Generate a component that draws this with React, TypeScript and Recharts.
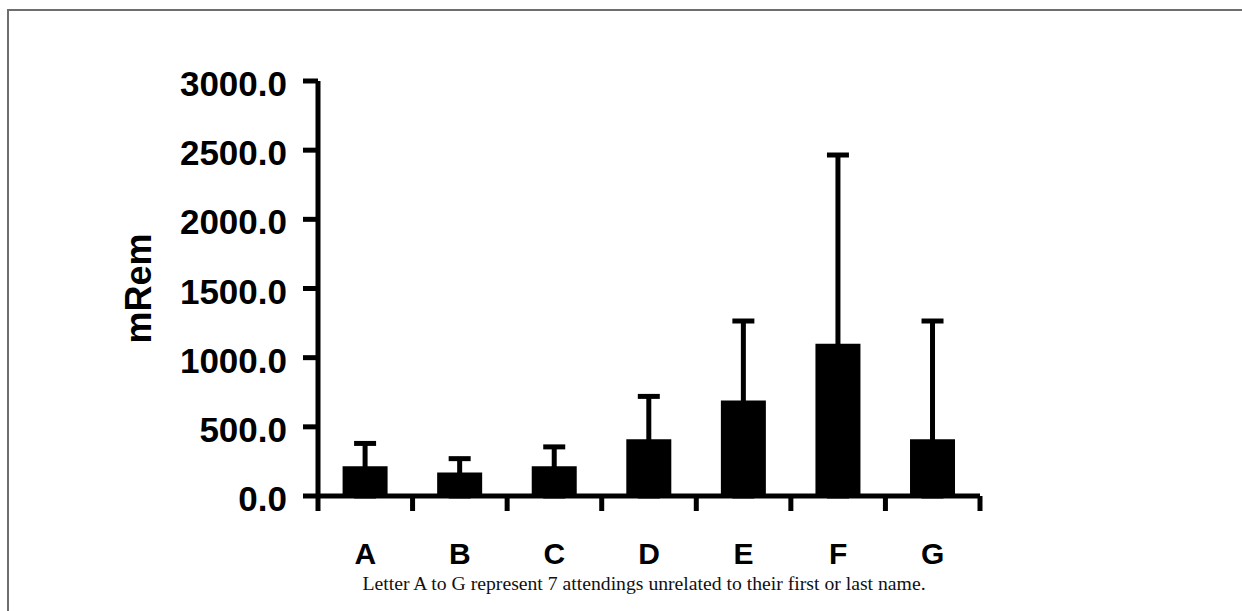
import { BarChart, Bar, XAxis, YAxis, ErrorBar } from "recharts";

// mean dose per attending, with the upper SD drawn as error bar
const attendings = ["A", "B", "C", "D", "E", "F", "G"];
const meanDose = [215, 170, 215, 410, 690, 1100, 410];
const sdDose = [165, 100, 140, 310, 575, 1365, 855];
const yTicks = [0, 500, 1000, 1500, 2000, 2500, 3000];

// lower arm runs down inside the bar to 0 so only the upper half shows
const chartData = attendings.map((name, i) => ({
  name,
  mean: meanDose[i],
  err: [meanDose[i], sdDose[i]],
}));

const FONT = "'Liberation Sans', Arial, Helvetica, sans-serif";
const TICK = 15;

function YTick({ x, y, payload }: any) {
  return (
    <text x={x} y={y} dy={15} textAnchor="end" fontFamily={FONT} fontWeight="bold" fontSize={35} fill="#000">
      {Number(payload.value).toFixed(1)}
    </text>
  );
}

function XTick({ x, y, payload, index }: any) {
  const half = payload.offset || 662 / attendings.length / 2;
  const axisY = y - TICK;
  const last = index === attendings.length - 1;
  return (
    <g>
      <line x1={x - half} x2={x - half} y1={axisY} y2={axisY + TICK} stroke="#000" strokeWidth={5} />
      {last && <line x1={x + half} x2={x + half} y1={axisY} y2={axisY + TICK} stroke="#000" strokeWidth={5} />}
      <text x={x} y={axisY + 68} textAnchor="middle" fontFamily={FONT} fontWeight="bold" fontSize={30} fill="#000">
        {payload.value}
      </text>
    </g>
  );
}

function YLabel({ viewBox }: any) {
  const cy = viewBox.y + viewBox.height / 2;
  return (
    <text x={151} y={cy} transform={`rotate(-90 151 ${cy})`} textAnchor="middle" fontFamily={FONT} fontWeight="bold" fontSize={36} fill="#000">
      mRem
    </text>
  );
}

export default function App() {
  return (
    <div style={{ position: "fixed", left: 0, top: 0, width: 1242, height: 611, background: "#fff", overflow: "hidden" }}>
      <div style={{ position: "absolute", left: 7, top: 9, width: 1235, height: 2, background: "#6e6e6e" }} />
      <div style={{ position: "absolute", left: 7, top: 9, width: 2, height: 602, background: "#6e6e6e" }} />
      <div style={{ position: "absolute", left: 0, top: 0 }}>
        <BarChart width={1242} height={611} data={chartData} margin={{ top: 81, right: 262, bottom: 0, left: 0 }} barCategoryGap="26%">
          <XAxis
            dataKey="name"
            height={115}
            axisLine={{ stroke: "#000", strokeWidth: 5 }}
            tickLine={false}
            tickSize={TICK}
            tickMargin={0}
            tick={<XTick />}
            interval={0}
          />
          <YAxis
            width={318}
            domain={[0, 3000]}
            ticks={yTicks}
            interval={0}
            axisLine={{ stroke: "#000", strokeWidth: 5 }}
            tickLine={{ stroke: "#000", strokeWidth: 5 }}
            tickSize={TICK}
            tickMargin={16}
            tick={<YTick />}
            label={<YLabel />}
          />
          <Bar dataKey="mean" fill="#000" isAnimationActive={false}>
            <ErrorBar dataKey="err" direction="y" width={11} stroke="#000" strokeWidth={5} />
          </Bar>
        </BarChart>
      </div>
      <div
        style={{
          position: "absolute",
          left: 244,
          width: 800,
          top: 572,
          textAlign: "center",
          fontFamily: "'Liberation Serif', 'DejaVu Serif', serif",
          fontSize: 19.7,
          color: "#111",
          whiteSpace: "nowrap",
        }}
      >
        Letter A to G represent 7 attendings unrelated to their first or last name.
      </div>
    </div>
  );
}
